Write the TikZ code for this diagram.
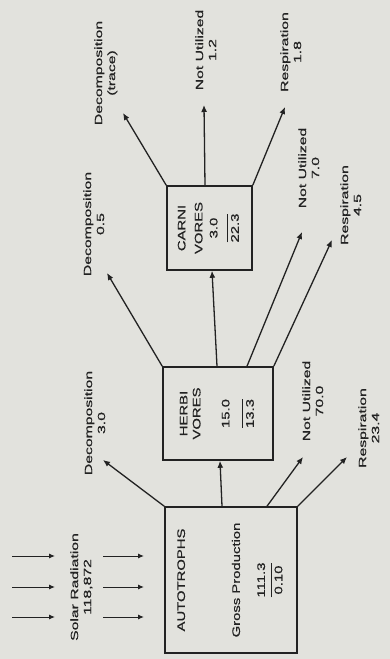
\documentclass[tikz,border=0pt]{standalone}
\usepackage{fontspec}
\usepackage{graphicx}
\usetikzlibrary{positioning, arrows.meta}
\newfontfamily\lblfont[FakeStretch=1.5, FakeBold=0.6]{Liberation Sans}
\newfontfamily\boxfont[FakeStretch=1.35, FakeBold=0.6]{Liberation Sans}
\definecolor{paper}{RGB}{226,226,221}
\definecolor{ink}{RGB}{34,34,34}
\newcommand{\vtxt}[1]{\rotatebox{90}{\begin{tabular}{@{}c@{}}#1\end{tabular}}}
\newcommand{\frc}[3][1pt]{\begin{tabular}{@{}c@{}}#2\\[#1]\hline\rule{0pt}{11pt}#3\end{tabular}}

\begin{document}
\begin{tikzpicture}[
        x=1pt, y=-1pt,
        box/.style={draw=ink, line width=1.6pt, rectangle, inner sep=0pt, text=ink, font=\boxfont\fontsize{11}{13}\selectfont},
        lbl/.style={inner sep=0pt, text=ink, font=\lblfont\fontsize{10.5}{13}\selectfont},
        flow/.style={draw=ink, line width=1.3pt, -{Latex[length=7pt,width=6pt]}},
        ray/.style={draw=ink, line width=1pt, -{Latex[length=6pt,width=5pt]}}
    ]
    \fill[paper] (0,0) rectangle (390,659);
    \useasboundingbox (0,0) rectangle (390,659);

    % trophic levels
    \node[box, minimum width=132pt, minimum height=146pt] (auto) at (231,580)
        {\vtxt{AUTOTROPHS\\[42pt]Gross Production\\[12pt]\frc[2pt]{111.3}{0.10}}};
    \node[box, minimum width=110pt, minimum height=93pt] (herb) at (218,413.5)
        {\vtxt{HERBI\\VORES\\[16pt]\frc[9pt]{15.0}{13.3}}};
    \node[box, minimum width=85pt, minimum height=84pt] (carn) at (209.5,228)
        {\vtxt{CARNI\\[4pt]VORES\\[2pt]\frc[6pt]{3.0}{22.3}}};

    % labels
    \node[lbl] (solar) at (82,587) {\vtxt{Solar Radiation\\118,872}};
    \node[lbl] (dec1) at (96,423) {\vtxt{Decomposition\\3.0}};
    \node[lbl] (nu1) at (314,401) {\vtxt{Not Utilized\\70.0}};
    \node[lbl] (re1) at (370,428) {\vtxt{Respiration\\23.4}};
    \node[lbl] (dec2) at (95,224) {\vtxt{Decomposition\\0.5}};
    \node[lbl] (nu2) at (310,168) {\vtxt{Not Utilized\\7.0}};
    \node[lbl] (re2) at (352,205) {\vtxt{Respiration\\4.5}};
    \node[lbl] (dec3) at (106,73) {\vtxt{Decomposition\\(trace)}};
    \node[lbl] (nu3) at (207,50) {\vtxt{Not Utilized\\1.2}};
    \node[lbl] (re3) at (292,52) {\vtxt{Respiration\\1.8}};

    % arrow tips
    \coordinate (tdec1) at (103,460);
    \coordinate (tnu1) at (303,457);
    \coordinate (tre1) at (347,457);
    \coordinate (tdec2) at (107,273);
    \coordinate (tnu2) at (302,232);
    \coordinate (tre2) at (332,240);
    \coordinate (tdec3) at (123,113);
    \coordinate (tnu3) at (204,105);
    \coordinate (tre3) at (285,107);

    % sunlight
    \foreach \yy [count=\i] in {556,587,617} {
        \coordinate (ra\i) at (12,\yy);
        \coordinate (rb\i) at (55,\yy);
        \coordinate (rc\i) at (103,\yy);
        \coordinate (rd\i) at (144,\yy);
        \draw[ray] (ra\i) -- (rb\i);
        \draw[ray] (rc\i) -- (rd\i);
    }

    \draw[flow] ([xshift=-9pt]auto.north) -- ([xshift=2pt]herb.south);
    \draw[flow] ([xshift=-1pt]herb.north) -- ([xshift=2.5pt]carn.south);

    \draw[flow] (auto.north west) -- (tdec1);
    \draw[flow] ([xshift=36pt]auto.north) -- (tnu1);
    \draw[flow] (auto.north east) -- (tre1);
    \draw[flow] (herb.north west) -- (tdec2);
    \draw[flow] ([xshift=29pt]herb.north) -- (tnu2);
    \draw[flow] (herb.north east) -- (tre2);
    \draw[flow] (carn.north west) -- (tdec3);
    \draw[flow] ([xshift=-4.5pt]carn.north) -- (tnu3);
    \draw[flow] (carn.north east) -- (tre3);
\end{tikzpicture}
\end{document}
